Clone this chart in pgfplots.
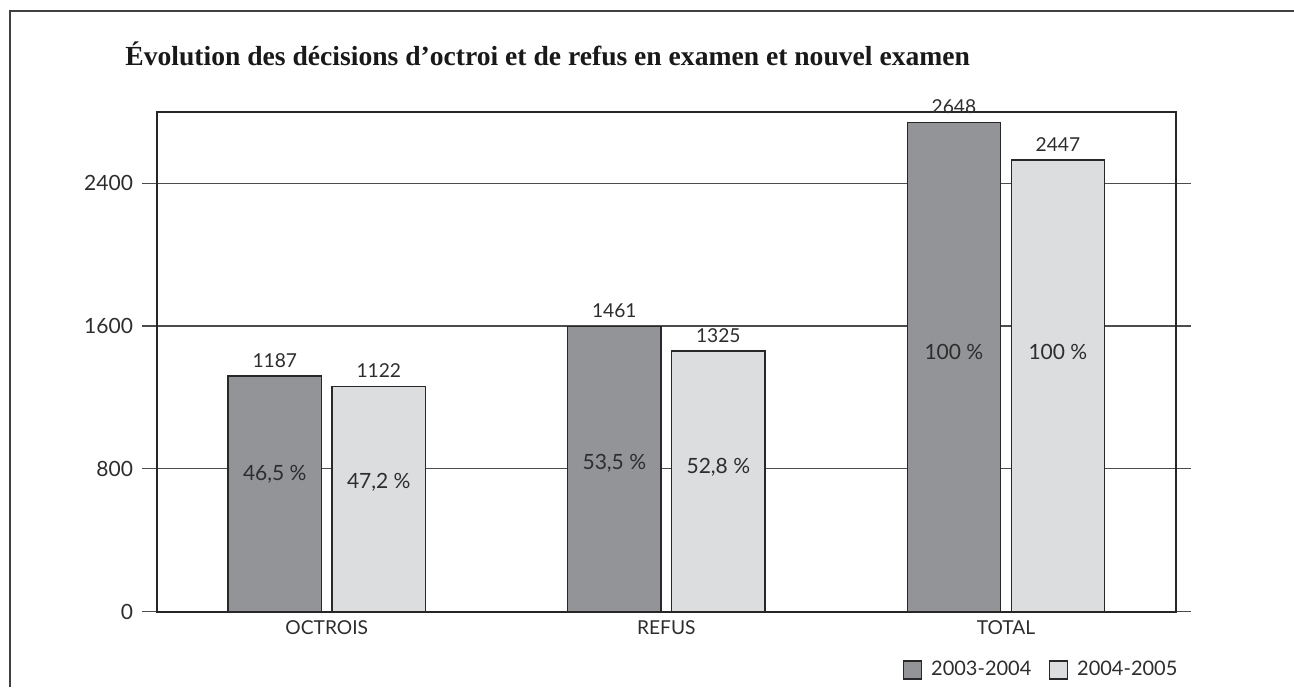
\documentclass[border=0pt]{standalone}
\usepackage{fontspec}
\setmainfont{Lato}
\newfontfamily\titlefont{Liberation Serif}
\usepackage{pgfplots}
\pgfplotsset{compat=1.18}
\definecolor{barA}{RGB}{147,148,152}
\definecolor{barB}{RGB}{220,221,223}
\definecolor{txt}{RGB}{45,45,45}
\definecolor{edge}{RGB}{40,40,40}
\begin{document}
\begin{tikzpicture}
\path[use as bounding box] (0,0) rectangle (647pt,343.5pt);
\draw[line width=1pt, color=black!75] (4.75pt,0) -- (4.75pt,338pt) -- (647pt,338pt);
\node[anchor=base west, font=\titlefont\bfseries\fontsize{13.8}{16}\selectfont, text=black!90, inner sep=0pt] at (62.5pt,310.5pt) {Évolution des décisions d’octroi et de refus en examen et nouvel examen};
\begin{axis}[
  at={(78.5pt,37.65pt)}, anchor=south west,
  scale only axis, width=509.35pt, height=250pt,
  xmin=0, xmax=3, ymin=0, ymax=2800,
  ytick={0,800,1600,2400}, yticklabels={0,800,1600,2400},
  ymajorgrids, grid style={line width=0.6pt, color=black!70},
  axis line style={line width=0.8pt, color=black!85},
  tick align=outside, major tick length=7.5pt,
  ytick style={line width=0.6pt, color=black!70},
  xtick={0.5,1.5,2.5}, xticklabels={OCTROIS,REFUS,TOTAL},
  xtick style={draw=none},
  y tick label style={font=\fontsize{10.5}{12}\selectfont, text=txt, xshift=-1pt},
  x tick label style={font=\fontsize{9.6}{11}\selectfont, text=txt, yshift=6.5pt},
  clip=false,
  legend columns=2,
  legend style={draw=none, fill=none, at={(axis description cs:1.006,-0.1166)}, anchor=east, inner sep=0pt,
    font=\fontsize{10}{12}\selectfont, text=txt,
    /tikz/every odd column/.append style={column sep=2.5pt},
    /tikz/every even column/.append style={column sep=6.8pt}},
  legend image code/.code={\draw[#1, line width=0.6pt] (0pt,-4.5pt) rectangle (9pt,4.5pt);},
]
\addplot[ybar, bar width=46.7pt, bar shift=-26pt, fill=barA, draw=edge, line width=0.7pt,
  nodes near coords, point meta=explicit symbolic,
  every node near coord/.append style={anchor=south, inner sep=0pt, yshift=4pt, xshift=-26pt, font=\fontsize{9.6}{11}\selectfont, text=txt}]
  table[meta=lab] {
x y lab
0.5 1320 1187
1.5 1596 1461
2.5 2739 2648
};
\addlegendentry{2003-2004}
\addplot[ybar, bar width=46.7pt, bar shift=26pt, fill=barB, draw=edge, line width=0.7pt,
  nodes near coords, point meta=explicit symbolic,
  every node near coord/.append style={anchor=south, inner sep=0pt, yshift=4pt, xshift=26pt, font=\fontsize{9.6}{11}\selectfont, text=txt}]
  table[meta=lab] {
x y lab
0.5 1261 1122
1.5 1459 1325
2.5 2530 2447
};
\addlegendentry{2004-2005}
\addplot[draw=none, mark=none, forget plot,
  nodes near coords, point meta=explicit symbolic,
  every node near coord/.append style={anchor=center, inner sep=0pt, font=\fontsize{10.5}{12}\selectfont, text=txt}]
  table[meta=lab, col sep=semicolon] {
x;y;lab
0.3469;769;46,5 \%
0.6531;726;47,2 \%
1.3469;830;53,5 \%
1.6531;809;52,8 \%
2.3469;1455;100 \%
2.6531;1455;100 \%
};
\end{axis}
\end{tikzpicture}
\end{document}
